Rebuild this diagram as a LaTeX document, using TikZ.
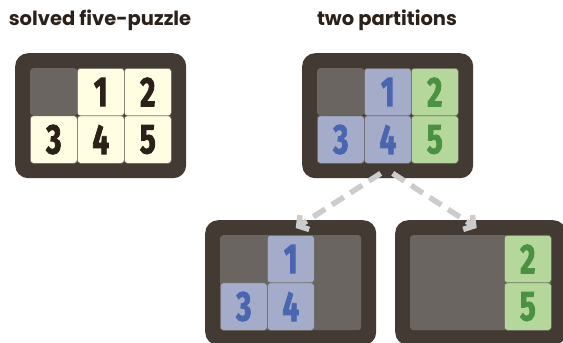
\documentclass[tikz,border=0pt]{standalone}
\usepackage{fontspec}
\setmainfont{Poppins}
\newfontfamily\numfont[FakeStretch=0.7, FakeBold=2]{Fira Sans}
\usetikzlibrary{arrows.meta, positioning, calc}
\definecolor{cframe}{HTML}{433A33}
\definecolor{cblank}{HTML}{6A6561}
\definecolor{ccream}{HTML}{FFFDE2}
\definecolor{cink}{HTML}{2B2119}
\definecolor{cblue}{HTML}{A5ACC9}
\definecolor{cbluetext}{HTML}{4A66B0}
\definecolor{cgreen}{HTML}{B6D79B}
\definecolor{cgreentext}{HTML}{4A9142}
\definecolor{cdash}{HTML}{CCCCCC}
\tikzset{
  frame/.style={fill=cframe, rounded corners=13pt, minimum width=171pt, minimum height=125pt, anchor=north west, inner sep=0pt},
  blank/.style={fill=cblank, rounded corners=3pt, anchor=north west, inner sep=0pt},
  tile/.style={fill=#1, draw=cframe!80, line width=0.6pt, rounded corners=3pt, anchor=north west, inner sep=0pt,
    minimum width=47pt, minimum height=47.5pt, font=\numfont\bfseries\fontsize{42}{42}\selectfont},
  tile/.default=ccream,
  arrow/.style={-{Straight Barb[length=7pt, width=17pt]}, draw=cdash, line width=5.5pt, dash pattern=on 14pt off 8pt},
  title/.style={font=\bfseries\fontsize{19.5}{22}\selectfont, text=cink},
}

\begin{document}
\begin{tikzpicture}[x=1pt, y=-1pt]
  \useasboundingbox (0,0) rectangle (563,343);
  % titles
  \node[title] (t1) at (100,20) {solved five-puzzle};
  \node[title] (t2) at (387,20) {two partitions};
  % solved puzzle
  \node[frame] (p1) at (15,53) {};
  \node[blank, minimum width=47pt, minimum height=47.5pt] (p1b) at (30,68) {};
  \foreach \n/\x/\y in {1/77/68, 2/124/68, 3/30/115.5, 4/77/115.5, 5/124/115.5} {
    \node[tile, text=cink] (p1t\n) at (\x,\y) {\n};
  }
  % both partitions
  \node[frame] (p2) at (302,53) {};
  \node[blank, minimum width=47pt, minimum height=47.5pt] (p2b) at (317,68) {};
  \foreach \n/\x/\y in {1/364/68, 3/317/115.5, 4/364/115.5} {
    \node[tile=cblue, text=cbluetext] (p2t\n) at (\x,\y) {\n};
  }
  \foreach \n/\x/\y in {2/411/68, 5/411/115.5} {
    \node[tile=cgreen, text=cgreentext] (p2t\n) at (\x,\y) {\n};
  }
  % first partition
  \node[frame] (p3) at (205,220) {};
  \node[blank, minimum width=141pt, minimum height=95pt] (p3b) at (220,235) {};
  \foreach \n/\x/\y in {1/267/235, 3/220/282.5, 4/267/282.5} {
    \node[tile=cblue, text=cbluetext] (p3t\n) at (\x,\y) {\n};
  }
  % second partition
  \node[frame] (p4) at (395,220) {};
  \node[blank, minimum width=141pt, minimum height=95pt] (p4b) at (410,235) {};
  \foreach \n/\x/\y in {2/504/235, 5/504/282.5} {
    \node[tile=cgreen, text=cgreentext] (p4t\n) at (\x,\y) {\n};
  }
  % arrows
  \draw[arrow] ($(p2.south)+(-7,-5)$) -- ($(p3.north)+(5,8)$);
  \draw[arrow] ($(p2.south)+(5,-5)$) -- ($(p4.north)+(-4,8)$);
\end{tikzpicture}
\end{document}
